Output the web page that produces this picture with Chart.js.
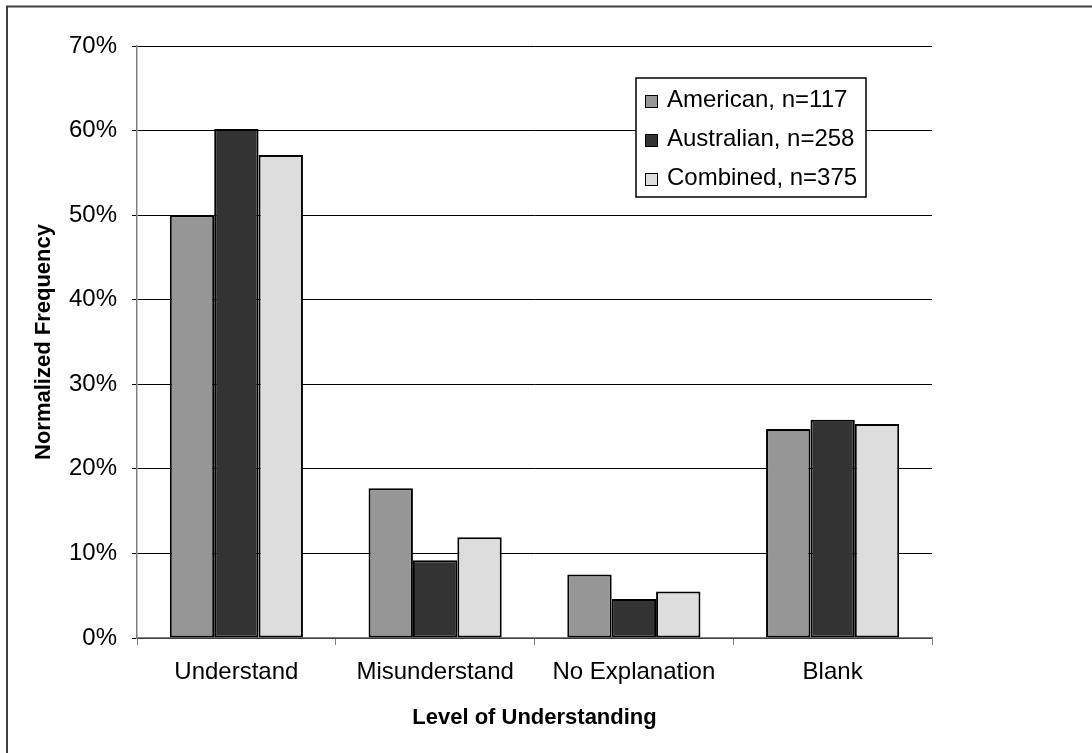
<!DOCTYPE html>
<html>
<head>
<meta charset="utf-8">
<script src="https://cdn.jsdelivr.net/npm/chart.js@4.4.1/dist/chart.umd.min.js"></script>
<style>
  html, body { margin: 0; padding: 0; background: #fff; }
  canvas { display: block; }
</style>
</head>
<body>
<canvas id="chart" width="1092" height="753"></canvas>
<script>
const categories = ['Understand', 'Misunderstand', 'No Explanation', 'Blank'];
const seriesNames = ['American, n=117', 'Australian, n=258', 'Combined, n=375'];
const american = [50.0, 17.7, 7.5, 24.7];
const australian = [60.2, 9.2, 4.6, 25.8];
const combined = [57.1, 11.9, 5.5, 25.3];
const yTicks = [0, 10, 20, 30, 40, 50, 60, 70];

const FONT = '"Liberation Sans", Arial, sans-serif';

// outer frame (only top and left edges are visible in the picture)
const framePlugin = {
  id: 'frame',
  afterDraw(chart) {
    const ctx = chart.ctx;
    ctx.save();
    ctx.strokeStyle = '#404040';
    ctx.lineWidth = 2;
    ctx.beginPath();
    ctx.moveTo(7, 753);
    ctx.lineTo(7, 6.5);
    ctx.lineTo(1092, 6.5);
    ctx.stroke();
    ctx.restore();
  }
};

// boxed legend sitting inside the plot area
const boxLegend = {
  id: 'boxLegend',
  afterDraw(chart) {
    const ctx = chart.ctx;
    const x = 636, y = 78, w = 230, h = 119;
    ctx.save();
    ctx.fillStyle = '#fff';
    ctx.fillRect(x, y, w, h);
    ctx.strokeStyle = '#000';
    ctx.lineWidth = 1.5;
    ctx.strokeRect(x, y, w, h);
    ctx.font = '24px ' + FONT;
    ctx.textBaseline = 'alphabetic';
    ctx.textAlign = 'left';
    chart.data.datasets.forEach((ds, i) => {
      const base = 107 + i * 39;
      ctx.fillStyle = ds.backgroundColor;
      ctx.fillRect(645, base - 12, 13, 13);
      ctx.lineWidth = 1;
      ctx.strokeStyle = '#000';
      ctx.strokeRect(645.5, base - 11.5, 12, 12);
      ctx.fillStyle = '#000';
      ctx.fillText(ds.label, 667, base);
    });
    ctx.restore();
  }
};

new Chart(document.getElementById('chart').getContext('2d'), {
  type: 'bar',
  data: {
    labels: categories,
    datasets: [
      { label: seriesNames[0], data: american, backgroundColor: '#969696' },
      { label: seriesNames[1], data: australian, backgroundColor: '#333333' },
      { label: seriesNames[2], data: combined, backgroundColor: '#dddddd' }
    ].map(d => Object.assign(d, {
      borderColor: '#000',
      borderWidth: 2,
      borderSkipped: false,
      barPercentage: 1,
      categoryPercentage: 0.67
    }))
  },
  options: {
    responsive: false,
    animation: false,
    layout: { padding: { left: 0, top: 46, right: 160, bottom: 0 } },
    plugins: {
      legend: { display: false },
      tooltip: { enabled: false }
    },
    scales: {
      x: {
        afterFit: s => { s.height = 115; },
        grid: {
          offset: true,
          drawOnChartArea: false,
          tickLength: 7,
          color: '#808080'
        },
        border: { color: '#808080', width: 1.5 },
        ticks: { color: '#000', padding: 13, font: { family: FONT, size: 24 } },
        title: {
          display: true,
          text: 'Level of Understanding',
          color: '#000',
          padding: { top: 0, bottom: 22 },
          font: { family: FONT, size: 22, weight: 'bold' }
        }
      },
      y: {
        min: 0,
        max: 70,
        afterFit: s => { s.width = 137; },
        afterBuildTicks: s => { s.ticks = yTicks.map(v => ({ value: v })); },
        grid: { color: '#000', tickLength: 5, lineWidth: 1 },
        border: { color: '#808080', width: 1.5 },
        ticks: {
          color: '#000',
          padding: 15,
          font: { family: FONT, size: 24 },
          callback: v => v + '%'
        },
        title: {
          display: true,
          text: 'Normalized Frequency',
          color: '#000',
          padding: { top: 31, bottom: 0 },
          font: { family: FONT, size: 22, weight: 'bold' }
        }
      }
    }
  },
  plugins: [framePlugin, boxLegend]
});
</script>
</body>
</html>
